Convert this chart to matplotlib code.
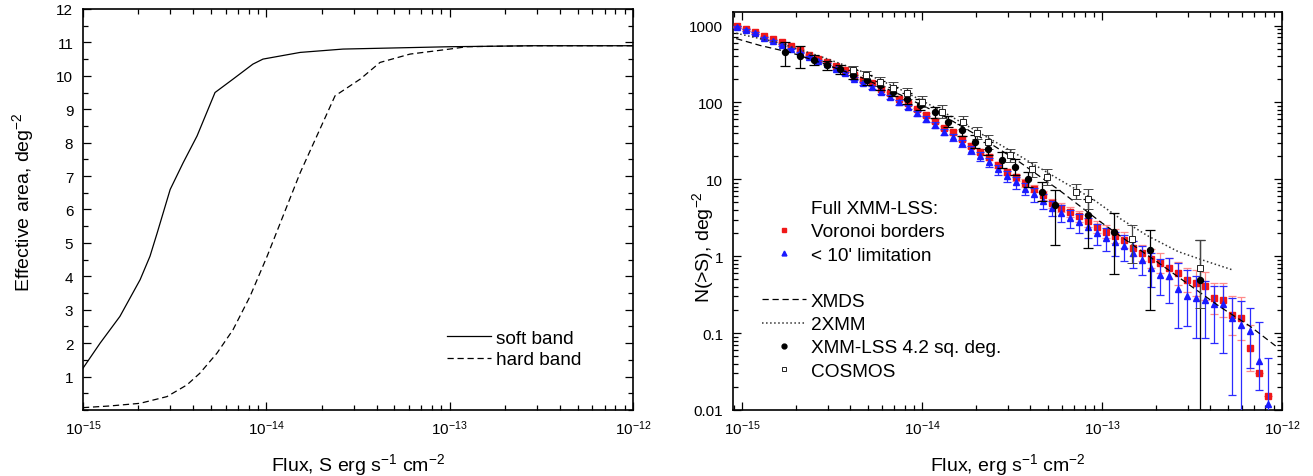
import numpy as np
import matplotlib.pyplot as plt
from matplotlib.lines import Line2D
from matplotlib.ticker import FixedLocator, MultipleLocator, LogLocator, NullFormatter, FuncFormatter

plt.rcParams["font.family"] = ["Liberation Sans", "DejaVu Sans"]
plt.rcParams["mathtext.fontset"] = "custom"
plt.rcParams["mathtext.rm"] = "Liberation Sans"
plt.rcParams["mathtext.it"] = "Liberation Sans:italic"
plt.rcParams["mathtext.bf"] = "Liberation Sans:bold"

# ---- left panel: effective area ----
soft_flux = [1e-15, 1.24e-15, 1.59e-15, 2.05e-15, 2.32e-15, 2.54e-15, 2.99e-15, 3.52e-15,
             4.19e-15, 5.25e-15, 6.58e-15, 8.45e-15, 9.59e-15, 1.53e-14, 2.62e-14, 1.0e-13,
             2.85e-13, 1e-12]
soft_area = [1.25, 2.0, 2.8, 3.9, 4.6, 5.3, 6.6, 7.4, 8.2, 9.5, 9.9, 10.35, 10.5, 10.7,
             10.8, 10.87, 10.9, 10.9]

hard_flux = [1e-15, 1.40e-15, 2.05e-15, 2.87e-15, 3.69e-15, 4.34e-15, 5.38e-15, 6.58e-15,
             8.15e-15, 1.01e-14, 1.53e-14, 2.37e-14, 3.25e-14, 4.17e-14, 6.08e-14, 1e-13,
             1.24e-13, 2.85e-13, 1e-12]
hard_area = [0.07, 0.12, 0.2, 0.4, 0.75, 1.1, 1.7, 2.4, 3.4, 4.6, 7.1, 9.4, 9.9, 10.4,
             10.65, 10.8, 10.87, 10.9, 10.9]

# ---- right panel: logN-logS ----
# log10 of flux for the Voronoi / <10' points
grid_logflux = [-15.03, -14.98, -14.93, -14.88, -14.83, -14.78, -14.73, -14.68, -14.63, -14.58,
                -14.53, -14.48, -14.43, -14.38, -14.33, -14.28, -14.23, -14.18, -14.13, -14.08,
                -14.03, -13.98, -13.93, -13.88, -13.83, -13.78, -13.73, -13.68, -13.63, -13.58,
                -13.53, -13.48, -13.43, -13.38, -13.33, -13.28, -13.23, -13.18, -13.13, -13.08,
                -13.03, -12.98, -12.93, -12.88, -12.83, -12.78, -12.73, -12.68, -12.63, -12.58,
                -12.53, -12.48, -12.43, -12.38, -12.33, -12.28, -12.23, -12.18, -12.13, -12.08]

voronoi_n = [977, 912, 832, 724, 661, 603, 537, 479, 417, 372,
             339, 295, 263, 224, 195, 178, 151, 132, 112, 97.7,
             81.3, 69.2, 57.5, 46.8, 40.7, 33.9, 27.5, 22.9, 19.5, 15.5,
             12.6, 10.7, 8.91, 7.59, 6.17, 4.90, 4.27, 3.80, 3.31, 2.88,
             2.40, 2.09, 1.82, 1.62, 1.26, 1.10, 0.933, 0.813, 0.692, 0.603,
             0.490, 0.447, 0.407, 0.282, 0.269, 0.170, 0.155, 0.0646, 0.0302, 0.0151]
voronoi_dex = [0.01, 0.01, 0.01, 0.01, 0.01, 0.01, 0.01, 0.01, 0.01, 0.01,
               0.01, 0.01, 0.015, 0.015, 0.015, 0.015, 0.02, 0.02, 0.02, 0.02,
               0.02, 0.025, 0.025, 0.025, 0.03, 0.03, 0.03, 0.035, 0.035, 0.04,
               0.04, 0.045, 0.05, 0.05, 0.055, 0.06, 0.06, 0.065, 0.07, 0.075,
               0.08, 0.085, 0.09, 0.1, 0.1, 0.11, 0.12, 0.13, 0.14, 0.15,
               0.16, 0.17, 0.18, 0.2, 0.22, 0.25, 0.28, 0.3, 0.0, 0.0]

limit_n = [955, 871, 794, 692, 631, 562, 501, 447, 389, 347,
           316, 275, 240, 204, 178, 158, 135, 117, 100, 87.1,
           72.4, 61.7, 51.3, 41.7, 35.5, 29.5, 24.0, 20.0, 16.6, 13.5,
           11.0, 9.12, 7.59, 6.46, 5.25, 4.27, 3.63, 3.16, 2.75, 2.40,
           2.00, 1.74, 1.51, 1.35, 1.10, 0.891, 0.692, 0.562, 0.550, 0.380,
           0.302, 0.282, 0.269, 0.240, 0.240, 0.155, 0.126, 0.107, 0.0437, 0.0120]
limit_dex_up = [0.01, 0.01, 0.01, 0.01, 0.01, 0.01, 0.01, 0.01, 0.015, 0.015,
                0.015, 0.015, 0.02, 0.02, 0.02, 0.02, 0.025, 0.025, 0.025, 0.03,
                0.03, 0.035, 0.035, 0.04, 0.04, 0.045, 0.05, 0.05, 0.055, 0.06,
                0.065, 0.07, 0.075, 0.08, 0.085, 0.09, 0.1, 0.1, 0.11, 0.12,
                0.12, 0.13, 0.14, 0.15, 0.16, 0.18, 0.2, 0.22, 0.24, 0.33,
                0.34, 0.29, 0.25, 0.23, 0.23, 0.26, 0.32, 0.30, 0.50, 0.60]
limit_dex_dn = [0.01, 0.01, 0.01, 0.01, 0.01, 0.01, 0.01, 0.01, 0.015, 0.015,
                0.015, 0.015, 0.02, 0.02, 0.02, 0.02, 0.025, 0.025, 0.03, 0.03,
                0.035, 0.04, 0.04, 0.045, 0.05, 0.05, 0.055, 0.06, 0.065, 0.07,
                0.075, 0.08, 0.09, 0.1, 0.1, 0.11, 0.12, 0.13, 0.14, 0.15,
                0.16, 0.17, 0.18, 0.19, 0.2, 0.2, 0.24, 0.26, 0.35, 0.52,
                0.39, 0.52, 0.49, 0.51, 0.64, 1.0, 2.5, 0.48, 0.38, 2.5]

xmmlss_logflux = [-14.761, -14.678, -14.600, -14.528, -14.456, -14.383, -14.306, -14.233,
                  -14.161, -14.083, -14.011, -13.928, -13.856, -13.778, -13.706, -13.633,
                  -13.556, -13.483, -13.411, -13.333, -13.261, -13.078, -12.933, -12.733,
                  -12.456]
xmmlss_n = [457, 407, 355, 302, 269, 229, 195, 166, 138, 112, 93.3, 74.1, 56.2, 43.7,
            30.9, 25.1, 17.8, 14.5, 10.0, 6.92, 4.57, 3.39, 2.09, 1.20, 0.490]
xmmlss_dex_up = [0.13, 0.12, 0.07, 0.06, 0.06, 0.06, 0.06, 0.06, 0.06, 0.07, 0.07, 0.07,
                 0.07, 0.08, 0.08, 0.09, 0.10, 0.10, 0.10, 0.12, 0.20, 0.22, 0.24, 0.26, 0.52]
xmmlss_dex_dn = [0.19, 0.16, 0.07, 0.06, 0.06, 0.06, 0.06, 0.06, 0.06, 0.07, 0.07, 0.07,
                 0.07, 0.08, 0.08, 0.09, 0.10, 0.10, 0.10, 0.12, 0.52, 0.43, 0.55, 0.78, 2.5]

cosmos_logflux = [-14.383, -14.311, -14.233, -14.161, -14.083, -14.000, -13.889, -13.772,
                  -13.694, -13.633, -13.511, -13.389, -13.306, -13.144, -13.078, -12.833,
                  -12.456]
cosmos_n = [263, 224, 186, 155, 132, 102, 75.9, 55.0, 39.8, 30.9, 20.4, 13.5, 10.7, 6.92,
            5.62, 1.66, 0.692]
cosmos_dex_up = [0.06, 0.06, 0.06, 0.07, 0.07, 0.07, 0.08, 0.08, 0.08, 0.09, 0.09, 0.1,
                 0.1, 0.1, 0.13, 0.18, 0.37]
cosmos_dex_dn = [0.06, 0.06, 0.06, 0.07, 0.07, 0.07, 0.08, 0.08, 0.08, 0.09, 0.09, 0.1,
                 0.1, 0.1, 0.13, 0.31, 0.51]

xmds_logflux = [-15.033, -14.9, -14.733, -14.567, -14.344, -14.122, -13.9, -13.678, -13.456,
                -13.233, -13.011, -12.844, -12.678, -12.511, -12.344, -12.178, -12.028]
xmds_n = [676, 550, 447, 331, 214, 126, 70.8, 35.5, 16.6, 7.08, 2.82, 1.48, 0.794, 0.417,
          0.219, 0.123, 0.066]

xmm2_logflux = [-15.033, -14.789, -14.567, -14.344, -14.122, -13.9, -13.678, -13.456,
                -13.233, -13.056, -12.9, -12.75, -12.578, -12.428, -12.272]
xmm2_n = [794, 589, 398, 257, 148, 79.4, 39.8, 20.0, 9.77, 5.62, 3.09, 1.86, 1.15, 0.87, 0.66]


def dex_errors(values, up, dn):
    values = np.array(values)
    return [values - values / 10 ** np.array(dn), values * 10 ** np.array(up) - values]


def style_axes(ax):
    for s in ax.spines.values():
        s.set_linewidth(1.2)
    ax.tick_params(which="both", direction="in", top=True, right=True, width=0.9,
                   labelsize=11)
    ax.tick_params(which="major", length=6)
    ax.tick_params(which="minor", length=3.5)
    ax.tick_params(axis="y", pad=7)
    ax.tick_params(axis="x", pad=6)


fig = plt.figure(figsize=(13.13, 4.77), dpi=100)
ax1 = fig.add_axes([0.0632, 0.1384, 0.4189, 0.8407])
ax2 = fig.add_axes([0.5583, 0.1384, 0.4181, 0.8344])

# left
ax1.plot(soft_flux, soft_area, "-", color="black", lw=0.9, label="soft band")
ax1.plot(hard_flux, hard_area, "--", color="black", lw=0.9, dashes=(5, 3), label="hard band")
ax1.set_xscale("log")
ax1.set_xlim(1e-15, 1e-12)
ax1.set_ylim(0, 12)
ax1.yaxis.set_major_locator(FixedLocator(list(range(1, 13))))
ax1.yaxis.set_minor_locator(MultipleLocator(0.5))
ax1.xaxis.set_minor_locator(LogLocator(base=10, subs=np.arange(2, 10)))
ax1.xaxis.set_minor_formatter(NullFormatter())
style_axes(ax1)
ax1.set_xlabel(r"Flux, S erg s$^{-1}$ cm$^{-2}$", fontsize=14, labelpad=10)
ax1.set_ylabel(r"Effective area, deg$^{-2}$", fontsize=14)
ax1.yaxis.set_label_coords(-0.085, 0.52)
ax1.legend(loc="upper left", bbox_to_anchor=(0.662, 0.2), frameon=False, fontsize=13.7,
           handlelength=2.3, handletextpad=0.27, borderpad=0, borderaxespad=0,
           labelspacing=0.2)

# right
vf = 10 ** np.array(grid_logflux)
ax2.errorbar(vf, voronoi_n, yerr=dex_errors(voronoi_n, voronoi_dex, voronoi_dex),
             fmt="s", ms=4.5, color="#f01818", ecolor="#ff8a8a", elinewidth=0.9,
             capsize=3, capthick=0.9, zorder=3)
ax2.errorbar(vf, limit_n, yerr=dex_errors(limit_n, limit_dex_up, limit_dex_dn),
             fmt="^", ms=4.5, color="#1a1aff", ecolor="#2b2bff", elinewidth=0.9,
             capsize=3, capthick=0.9, zorder=4)
ax2.plot(10 ** np.array(xmds_logflux), xmds_n, "--", color="black", lw=0.9, dashes=(5, 3),
         zorder=5)
ax2.plot(10 ** np.array(xmm2_logflux), xmm2_n, ":", color="#333333", lw=1.1, zorder=5)
ax2.errorbar(10 ** np.array(xmmlss_logflux), xmmlss_n,
             yerr=dex_errors(xmmlss_n, xmmlss_dex_up, xmmlss_dex_dn),
             fmt="o", ms=4.3, color="black", ecolor="black", elinewidth=0.9,
             capsize=3.5, capthick=0.9, zorder=6)
ax2.errorbar(10 ** np.array(cosmos_logflux), cosmos_n,
             yerr=dex_errors(cosmos_n, cosmos_dex_up, cosmos_dex_dn),
             fmt="s", ms=4, mfc="white", mec="#222222", mew=0.7, ecolor="#444444",
             elinewidth=0.9, capsize=3.5, capthick=0.9, zorder=6)

ax2.set_xscale("log")
ax2.set_yscale("log")
ax2.set_xlim(8.9e-16, 1e-12)
ax2.set_ylim(0.01, 1500)
ax2.xaxis.set_minor_locator(LogLocator(base=10, subs=np.arange(2, 10)))
ax2.xaxis.set_minor_formatter(NullFormatter())
ax2.yaxis.set_major_locator(LogLocator(base=10, numticks=10))
ax2.yaxis.set_minor_locator(LogLocator(base=10, subs=np.arange(2, 10), numticks=20))
ax2.yaxis.set_major_formatter(FuncFormatter(lambda v, p: "%g" % v))
ax2.yaxis.set_minor_formatter(NullFormatter())
style_axes(ax2)
ax2.set_xlabel(r"Flux, erg s$^{-1}$ cm$^{-2}$", fontsize=14, labelpad=10)
ax2.set_ylabel(r"N(>S), deg$^{-2}$", fontsize=14)
ax2.yaxis.set_label_coords(-0.031, 0.412)

handles = [
    Line2D([], [], ls="none"),
    Line2D([], [], ls="none", marker="s", ms=3.5, color="#f01818"),
    Line2D([], [], ls="none", marker="^", ms=3.5, color="#1a1aff"),
    Line2D([], [], ls="none"),
    Line2D([], [], ls="--", dashes=(5, 3), lw=0.9, color="black"),
    Line2D([], [], ls=":", lw=1.1, color="#333333"),
    Line2D([], [], ls="none", marker="o", ms=3.5, color="black"),
    Line2D([], [], ls="none", marker="s", ms=3.5, mfc="white", mec="#222222", mew=0.7),
]
labels = ["Full XMM-LSS:", "Voronoi borders", "< 10' limitation", " ", "XMDS", "2XMM",
          "XMM-LSS 4.2 sq. deg.", "COSMOS"]
ax2.legend(handles, labels, loc="upper left", bbox_to_anchor=(0.053, 0.528), frameon=False,
           fontsize=13.7, handlelength=2.3, handletextpad=0.27, borderpad=0,
           borderaxespad=0, labelspacing=0.31)

fig.savefig("out.png", dpi=100)
